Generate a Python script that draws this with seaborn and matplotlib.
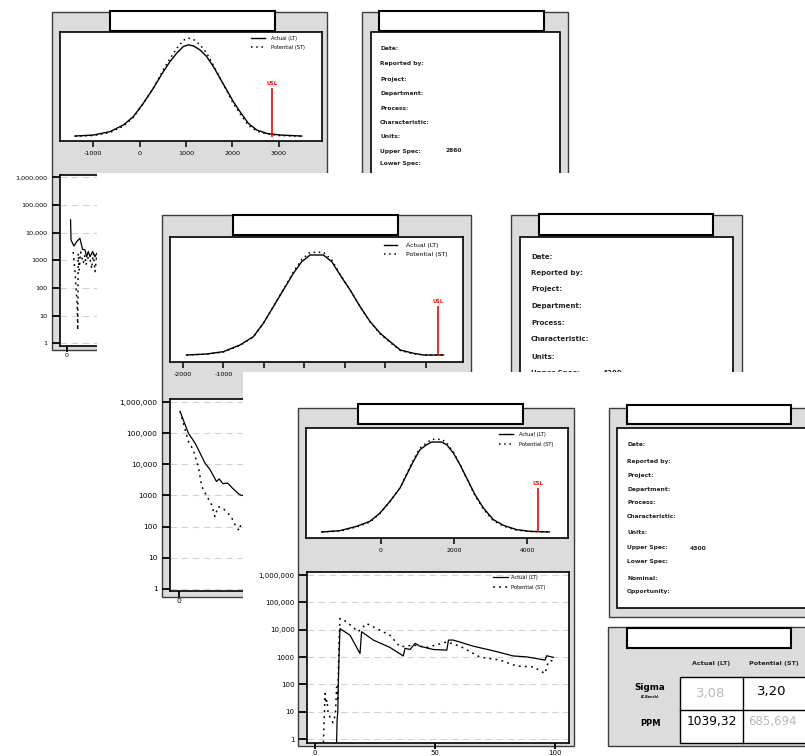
import matplotlib
matplotlib.use('Agg')
import matplotlib.pyplot as plt
import seaborn as sns
import pandas as pd
from matplotlib.patches import Rectangle
from matplotlib.ticker import NullLocator

# ---------------- data ----------------
# distribution curves (relative height, peak of Actual = 1)
p1_x = [-1387, -993, -634, -348, -133, 82, 297, 513, 656, 799, 943, 1050, 1158,
        1301, 1444, 1588, 1731, 1875, 2018, 2161, 2341, 2520, 2735, 3022, 3488]
p1_lt = [0.007, 0.018, 0.055, 0.127, 0.218, 0.364, 0.527, 0.709, 0.818, 0.909, 0.982, 1.0, 0.989,
         0.945, 0.873, 0.764, 0.636, 0.509, 0.382, 0.273, 0.145, 0.073, 0.036, 0.018, 0.007]
p1_st = [0.005, 0.012, 0.045, 0.115, 0.21, 0.36, 0.53, 0.73, 0.85, 0.96, 1.05, 1.073, 1.06,
         1.0, 0.91, 0.78, 0.64, 0.5, 0.36, 0.25, 0.125, 0.06, 0.03, 0.012, 0.005]

p2_x = [-1913, -1418, -1006, -594, -264, -16, 231, 478, 726, 932, 1138, 1467, 1674,
        1880, 2127, 2374, 2622, 2869, 3116, 3364, 3693, 3941, 4435]
p2_lt = [0, 0.01, 0.033, 0.1, 0.183, 0.317, 0.483, 0.65, 0.817, 0.933, 1.0, 1.0, 0.933,
         0.8, 0.65, 0.483, 0.333, 0.217, 0.133, 0.05, 0.017, 0, 0]
p2_st = [0, 0.008, 0.03, 0.095, 0.18, 0.315, 0.485, 0.655, 0.83, 0.955, 1.027, 1.027, 0.95,
         0.805, 0.65, 0.48, 0.33, 0.21, 0.125, 0.045, 0.012, 0, 0]

p3_x = [-1625, -1123, -667, -301, -27, 247, 521, 703, 886, 1068, 1251, 1388, 1662,
        1799, 1982, 2164, 2347, 2575, 2804, 3078, 3352, 3717, 4082, 4612]
p3_lt = [0, 0.015, 0.063, 0.119, 0.211, 0.341, 0.489, 0.637, 0.785, 0.915, 0.970, 1.0, 1.0,
         0.97, 0.878, 0.748, 0.6, 0.415, 0.267, 0.137, 0.074, 0.026, 0.007, 0]
p3_st = [0, 0.01, 0.055, 0.11, 0.205, 0.34, 0.49, 0.645, 0.80, 0.935, 0.99, 1.03, 1.03,
         0.99, 0.89, 0.75, 0.595, 0.405, 0.255, 0.125, 0.065, 0.02, 0.005, 0]

usl_vals = [2860, 4300, 4300]
usl_heights = [0.53, 0.49, 0.49]

# PPM trend (log) curves
l1_x_lt = [1.5, 1.7, 2.9, 4.0, 5.4, 6.5, 7.5, 8.2, 8.9, 9.6, 10.7, 11.7, 12.4, 13.5]
l1_lt = [29000, 5400, 3300, 4700, 6300, 2500, 2400, 1350, 2100, 1350, 2100, 1350, 1800, 1500]
l1_x_st = [2.6, 3.3, 3.75, 4.3, 4.5, 4.7, 5.1, 5.7, 6.8, 7.5, 7.9, 8.9, 9.6, 10.3, 11.0, 11.7, 12.4, 13.5]
l1_st = [2000, 450, 110, 21, 3, 1800, 450, 2000, 780, 1550, 680, 1350, 1200, 500, 1800, 390, 1550, 900]

l2_x_lt = [0.4, 3.5, 6.0, 9.7, 11.6, 14.0, 15.0, 16.4, 18.2, 20.0, 21.9, 22.8, 26]
l2_lt = [500000, 100000, 48000, 11000, 6700, 2800, 3400, 2400, 2500, 1700, 1200, 1050, 900]
l2_x_st = [0.4, 3.5, 5.3, 7.2, 8.5, 10.3, 12.2, 13.4, 14.6, 16.4, 19.5, 20.7, 22.4, 22.9, 26]
l2_st = [500000, 55000, 29000, 8500, 1950, 980, 500, 210, 440, 390, 210, 123, 75, 106, 90]

l3_x_lt = [9.0, 9.2, 9.5, 9.7, 10.0, 10.4, 14.6, 18.75, 19.4, 24.3, 31.25, 36.8, 37.5, 39.6,
           41.7, 43.75, 49.3, 54.9, 55.6, 57.6, 66, 74.3, 82.6, 88.2, 95.8, 96.5, 99.3]
l3_lt = [0.75, 5, 10, 100, 1000, 11000, 6300, 1350, 8500, 4200, 2250, 1100, 2100, 1900,
         3200, 2500, 1900, 1800, 4200, 4200, 2500, 1700, 1100, 1020, 780, 1120, 980]
l3_x_st = [3.5, 4.2, 4.5, 5.0, 5.5, 6.5, 7.5, 8.5, 9.0, 9.5, 10.0, 10.4, 13.2, 18.0, 21.5, 27.0,
           31.25, 35.4, 37.5, 41.0, 46.5, 55.0, 60.4, 68.75, 77.0, 84.0, 91.0, 95.8, 97.2, 99.3]
l3_st = [0.75, 47, 20, 27, 8, 6, 4, 8, 80, 30, 3000, 26000, 19500, 8500, 17000, 9700,
         6300, 2400, 2500, 2750, 2250, 3600, 2500, 1000, 780, 470, 440, 250, 680, 780]

# tick labels
d1_ticks = [-1000, 0, 1000, 2000, 3000]
d2_ticks = [-2000, -1000, 0, 1000, 2000, 3000, 4000]
d3_ticks = [0, 2000, 4000]
log_ticks = [1, 10, 100, 1000, 10000, 100000, 1000000]
log_tick_labels = ['1', '10', '100', '1000', '10,000', '100,000', '1,000,000']
obs_ticks = [0, 50, 100]
obs_tick_labels = ['0', '50', '100']

# report texts
info_labels = ['Date:', 'Reported by:', 'Project:', 'Department:', 'Process:', 'Characteristic:',
               'Units:', 'Upper Spec:', 'Lower Spec:', 'Nominal:', 'Opportunity:']
upper_specs = ['2860', '4300', '4300']
legend_labels = ['Actual (LT)', 'Potential (ST)']
table_cols = ['Actual (LT)', 'Potential (ST)']
table_rows = ['Sigma', 'PPM']
sigma_vals = ['3,08', '3,20']
ppm_vals = ['1039,32', '685,694']

# ---------------- figure ----------------
plt.rcParams['font.family'] = ['DejaVu Sans']
W, H = 805, 756
fig = plt.figure(figsize=(W / 100, H / 100), dpi=100)
GRAY = '#dcdcdc'
EDGE = '#3c3c3c'
LIGHT = '#b9b9b9'


def ax_px(x0, y0, x1, y1, z):
    return fig.add_axes([x0 / W, 1 - y1 / H, (x1 - x0) / W, (y1 - y0) / H], zorder=z)


def layer(z):
    a = fig.add_axes([0, 0, 1, 1], zorder=z)
    a.set_xlim(0, W)
    a.set_ylim(H, 0)
    a.set_axis_off()
    a.patch.set_visible(False)
    return a


def rect(a, x0, y0, x1, y1, fc, ec='none', lw=1.0):
    a.add_patch(Rectangle((x0, y0), x1 - x0, y1 - y0, facecolor=fc, edgecolor=ec, linewidth=lw))


def title_box(a, x0, y0, x1, y1):
    rect(a, x0, y0, x1, y1, 'white', 'black', 1.5)


def info_panel(a, outer, inner, tbox, xt, rows, fs, spec, vx):
    rect(a, *outer, GRAY, EDGE, 1.0)
    rect(a, *inner, 'white', 'black', 1.2)
    title_box(a, *tbox)
    for lbl, y in zip(info_labels, rows):
        a.text(xt, y, lbl, fontsize=fs, fontweight='bold', va='center', ha='left', color='#222222')
        if lbl == 'Upper Spec:':
            a.text(vx, y, spec, fontsize=fs, fontweight='bold', va='center', ha='left', color='#222222')


def style_spines(ax):
    for s in ax.spines.values():
        s.set_linewidth(1.2)
        s.set_color('black')
    ax.set_facecolor('white')


def dist_panel(box, z, xs, lt, st, xlim, ylim, ticks, usl, usl_h, fs, leg):
    ax = ax_px(*box, z)
    df = pd.DataFrame({'x': xs, 'lt': lt, 'st': st})
    sns.lineplot(data=df, x='x', y='lt', ax=ax, color='black', lw=1.0,
                 estimator=None, sort=False, label=legend_labels[0])
    sns.lineplot(data=df, x='x', y='st', ax=ax, color='black', lw=1.1, linestyle=(0, (1, 2.4)),
                 estimator=None, sort=False, label=legend_labels[1])
    ax.vlines(usl, 0, usl_h, color='red', lw=1.2)
    ax.annotate('USL', (usl, usl_h), xytext=(0, 1.5), textcoords='offset points', ha='center',
                va='bottom', color='red', fontsize=fs * 0.8, fontweight='bold')
    ax.set_xlim(*xlim)
    ax.set_ylim(*ylim)
    ax.set_yticks([])
    ax.set_xticks(ticks)
    ax.set_xticklabels([str(t) for t in ticks])
    ax.set_xlabel('')
    ax.set_ylabel('')
    ax.tick_params(axis='x', bottom=True, length=4.5, width=1.1, color='black', labelsize=fs,
                   pad=2.5, direction='out')
    style_spines(ax)
    ax_x, ax_y, lfs, hl, htp, ls = leg
    ax.legend(loc='upper right', bbox_to_anchor=(ax_x / W, 1 - ax_y / H), bbox_transform=fig.transFigure,
              frameon=False, fontsize=lfs, handlelength=hl, handletextpad=htp, labelspacing=ls,
              borderpad=0, borderaxespad=0)
    return ax


def log_panel(box, z, xlt, ylt, xst, yst, xlim, ylim, fs, leg=None):
    ax = ax_px(*box, z)
    ax.set_yscale('log')
    sns.lineplot(x=xlt, y=ylt, ax=ax, color='black', lw=0.9, estimator=None, sort=False,
                 label=legend_labels[0])
    sns.lineplot(x=xst, y=yst, ax=ax, color='black', lw=1.1, linestyle=(0, (1.2, 2.8)),
                 estimator=None, sort=False, label=legend_labels[1])
    ax.set_xlim(*xlim)
    ax.set_ylim(*ylim)
    ax.set_yticks(log_ticks)
    ax.set_yticklabels(log_tick_labels)
    ax.yaxis.set_minor_locator(NullLocator())
    ax.set_xticks(obs_ticks)
    ax.set_xticklabels(obs_tick_labels)
    ax.yaxis.grid(True, linestyle=(0, (6, 4)), color='#d2d2d2', lw=0.8)
    ax.set_axisbelow(True)
    ax.set_xlabel('')
    ax.set_ylabel('')
    ax.tick_params(axis='y', left=True, length=6, width=1.3, color='black',
                   labelsize=fs, pad=3, direction='out')
    ax.tick_params(axis='x', bottom=True, length=4, width=1.3, color='black',
                   labelsize=fs, pad=1.2, direction='out')
    style_spines(ax)
    if leg is None:
        if ax.get_legend() is not None:
            ax.get_legend().remove()
    else:
        ax_x, ax_y, lfs, hl, htp, ls = leg
        ax.legend(loc='upper right', bbox_to_anchor=(ax_x / W, 1 - ax_y / H),
                  bbox_transform=fig.transFigure, frameon=False, fontsize=lfs, handlelength=hl,
                  handletextpad=htp, labelspacing=ls, borderpad=0, borderaxespad=0)
    return ax


# ---------- layer 1 : first report ----------
L1 = layer(1)
rect(L1, 52, 12, 327, 350, GRAY, EDGE, 1.0)
title_box(L1, 110, 11, 275, 31)
info_panel(L1, (362, 12, 568, 420), (371, 32, 560, 410), (379, 11, 544, 31), 380,
           [49, 63, 79, 94, 109, 122, 136, 151, 164, 179, 193], 4.3, upper_specs[0], 445)

dist_panel((60, 32, 322, 141), 2, p1_x, p1_lt, p1_st, (-1710, 3925), (-0.047, 1.14), d1_ticks,
           usl_vals[0], usl_heights[0], 4.6, (305, 36, 3.6, 2.9, 1.2, 0.75))
log_panel((60, 175, 322, 346), 2, l1_x_lt, l1_lt, l1_x_st, l1_st, (-2.9, 106.3), (0.8, 1.22e6), 4.6)

# ---------- layer 2 : second report ----------
L2 = layer(3)
rect(L2, 97, 173, 805, 756, 'white')
rect(L2, 162, 215, 471, 597, GRAY, EDGE, 1.0)
title_box(L2, 233, 215, 398, 235)
info_panel(L2, (511, 215, 742, 600), (520, 237, 733, 590), (539, 214, 713, 235), 531,
           [257, 273, 289, 306, 323, 339, 357, 373, 390, 406, 422], 5.0, upper_specs[1], 603)

dist_panel((170, 237, 463, 362), 4, p2_x, p2_lt, p2_st, (-2321, 4914), (-0.07, 1.18), d2_ticks,
           usl_vals[1], usl_heights[1], 4.6, (448, 243, 4.4, 2.2, 1.5, 0.6))
log_panel((170, 399, 463, 591), 4, l2_x_lt, l2_lt, l2_x_st, l2_st, (-3.36, 106), (0.86, 1.25e6), 5.4)

# ---------- layer 3 : third report ----------
L3 = layer(5)
rect(L3, 243, 372, 805, 756, 'white')
rect(L3, 298, 408, 574, 746, GRAY, EDGE, 1.0)
title_box(L3, 358, 404, 523, 424)
info_panel(L3, (609, 408, 830, 617), (617, 428, 825, 608), (627, 405, 791, 424), 627,
           [445, 461, 475, 489, 503, 517, 532, 548, 561, 578, 592], 4.3, upper_specs[2], 690)

# summary table
rect(L3, 608, 627, 830, 746, GRAY, EDGE, 1.0)
title_box(L3, 627, 628, 791, 648)
rect(L3, 680, 677, 830, 743, 'white', 'black', 1.0)
L3.plot([680, 830], [710, 710], color='black', lw=1.0)
L3.plot([743, 743], [677, 743], color='black', lw=1.0)
col_cx = [711, 774]
for c, cx in zip(table_cols, col_cx):
    L3.text(cx, 664, c, fontsize=4.6, fontweight='bold', ha='center', va='center', color='#222222')
L3.text(650, 687, table_rows[0], fontsize=6.3, fontweight='bold', ha='center', va='center')
L3.text(650, 697, '(Z.Bench)', fontsize=2.4, fontweight='bold', ha='center', va='center')
L3.text(650, 724, table_rows[1], fontsize=6.0, fontweight='bold', ha='center', va='center')
L3.text(col_cx[0], 693, sigma_vals[0], fontsize=9.5, ha='center', va='center', color=LIGHT)
L3.text(col_cx[1] - 2, 692, sigma_vals[1], fontsize=9.5, ha='center', va='center', color='black')
L3.text(col_cx[0] + 1, 722, ppm_vals[0], fontsize=8.8, ha='center', va='center', color='black')
L3.text(col_cx[1] - 2, 722, ppm_vals[1], fontsize=8.5, ha='center', va='center', color=LIGHT)

dist_panel((306, 428, 568, 538), 6, p3_x, p3_lt, p3_st, (-2055, 5123), (-0.067, 1.156), d3_ticks,
           usl_vals[2], usl_heights[2], 4.4, (553, 432, 3.7, 2.8, 1.1, 0.9))
log_panel((307, 572, 569, 743), 6, l3_x_lt, l3_lt, l3_x_st, l3_st, (-3.33, 105.8), (0.72, 1.3e6), 5.0,
          leg=(545, 575, 3.7, 2.8, 0.6, 0.9))

fig.savefig('out.png', dpi=100, facecolor='white')
